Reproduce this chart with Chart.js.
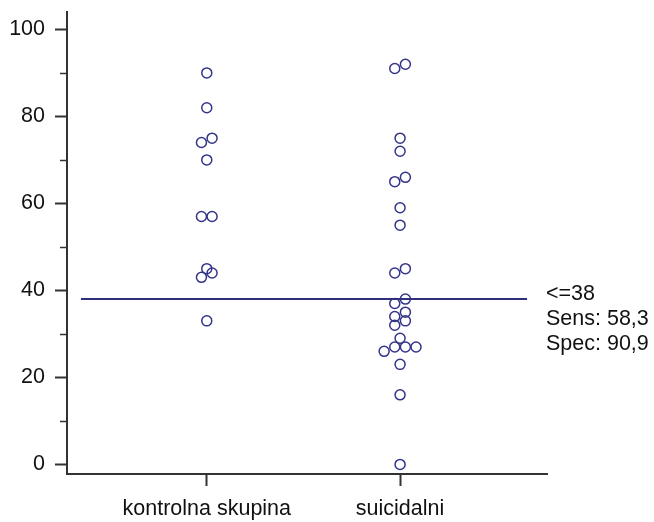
<!DOCTYPE html>
<html>
<head>
<meta charset="utf-8">
<script src="https://cdn.jsdelivr.net/npm/chart.js@4/dist/chart.umd.min.js"></script>
<style>
  html, body { margin: 0; padding: 0; background: #fff; }
  #wrap { width: 654px; height: 522px; }
</style>
</head>
<body>
<div id="wrap"><canvas id="dot-chart" width="654" height="522"></canvas></div>
<script>
// groups on the x axis
const categories = ['kontrolna skupina', 'suicidalni'];

// values per group, and the column each dot sits in (dot plot stacking)
const kontrolnaValues = [90, 82, 74, 75, 70, 57, 57, 45, 43, 44, 33];
const kontrolnaCols   = [0, 0, -1, 1, 0, -1, 1, 0, -1, 1, 0];

const suicidalniValues = [91, 92, 75, 72, 65, 66, 59, 55, 44, 45, 38, 37, 35, 34, 33, 32, 29, 26, 27, 27, 27, 23, 16, 0];
const suicidalniCols   = [-1, 1, 0, 0, -1, 1, 0, 0, -1, 1, 1, -1, 1, -1, 1, -1, 0, -3, -1, 1, 3, 0, 0, 0];

// cut-off value and its note
const cutoff = 38;
const cutoffLabels = ['<=38', 'Sens: 58,3', 'Spec: 90,9'];

// y ticks
const yTicks = [0, 20, 40, 60, 80, 100];
const yMinorTicks = [10, 30, 50, 70, 90];

const colStep = 0.0275; // half a dot width, in x units
const xMin = 0.277, xMax = 2.76;

const dotColor = '#34348a';
const lineColor = '#2f2f7c';
const axisColor = '#333';
const font = { family: '"Liberation Sans", Arial, sans-serif', size: 21.5 };

const toPoints = (values, cols, group) =>
    values.map((v, i) => ({ x: group + cols[i] * colStep, y: v }));

const dotStyle = {
    type: 'scatter',
    showLine: false,
    pointStyle: 'circle',
    pointRadius: 5,
    pointHoverRadius: 5,
    pointBorderWidth: 1.5,
    borderColor: dotColor,
    backgroundColor: 'rgba(0,0,0,0)',
};

const extras = {
    id: 'extras',
    afterDraw(chart) {
        const ctx = chart.ctx;
        const y = chart.scales.y;
        const area = chart.chartArea;
        ctx.save();
        // minor ticks on the y axis
        ctx.strokeStyle = axisColor;
        ctx.lineWidth = 1.5;
        yMinorTicks.forEach(v => {
            const py = Math.round(y.getPixelForValue(v)) + 0.5;
            ctx.beginPath();
            ctx.moveTo(area.left - 7, py);
            ctx.lineTo(area.left, py);
            ctx.stroke();
        });
        // cut-off note
        ctx.fillStyle = '#111';
        ctx.font = font.size + 'px ' + font.family;
        ctx.textAlign = 'left';
        ctx.textBaseline = 'alphabetic';
        const base = y.getPixelForValue(cutoff);
        cutoffLabels.forEach((t, i) => {
            ctx.fillText(t, area.right - 1, base + 0.5 + i * 25);
        });
        ctx.restore();
    }
};

const config = {
    data: {
        datasets: [
            {
                type: 'line',
                data: [{ x: 0.349, y: cutoff }, { x: 2.657, y: cutoff }],
                borderColor: lineColor,
                borderWidth: 2,
                pointRadius: 0,
                fill: false,
            },
            { ...dotStyle, data: toPoints(kontrolnaValues, kontrolnaCols, 1) },
            { ...dotStyle, data: toPoints(suicidalniValues, suicidalniCols, 2) },
        ],
    },
    options: {
        responsive: false,
        animation: false,
        events: [],
        layout: { padding: { left: 10, right: 107, top: 12, bottom: 0 } },
        plugins: { legend: { display: false }, tooltip: { enabled: false } },
        scales: {
            x: {
                type: 'linear',
                min: xMin,
                max: xMax,
                afterBuildTicks: s => { s.ticks = [1, 2].map(v => ({ value: v })); },
                afterFit: s => { s.height = 48; s.paddingLeft = 0; s.paddingRight = 0; },
                ticks: {
                    color: '#111',
                    font,
                    padding: 10,
                    maxRotation: 0,
                    autoSkip: false,
                    callback: v => categories[v - 1],
                },
                grid: {
                    drawOnChartArea: false,
                    tickLength: 12,
                    tickColor: axisColor,
                    tickWidth: 2,
                },
                border: { color: axisColor, width: 2 },
            },
            y: {
                type: 'linear',
                min: -2.2,
                max: 104,
                afterBuildTicks: s => { s.ticks = yTicks.map(v => ({ value: v })); },
                afterFit: s => { s.width = 57; s.paddingTop = 0; s.paddingBottom = 0; },
                ticks: { color: '#111', font, padding: 10 },
                grid: {
                    drawOnChartArea: false,
                    tickLength: 12,
                    tickColor: axisColor,
                    tickWidth: 2,
                },
                border: { color: axisColor, width: 2 },
            },
        },
    },
    plugins: [extras],
};

const dotChart = new Chart(document.getElementById('dot-chart'), config);
</script>
</body>
</html>
